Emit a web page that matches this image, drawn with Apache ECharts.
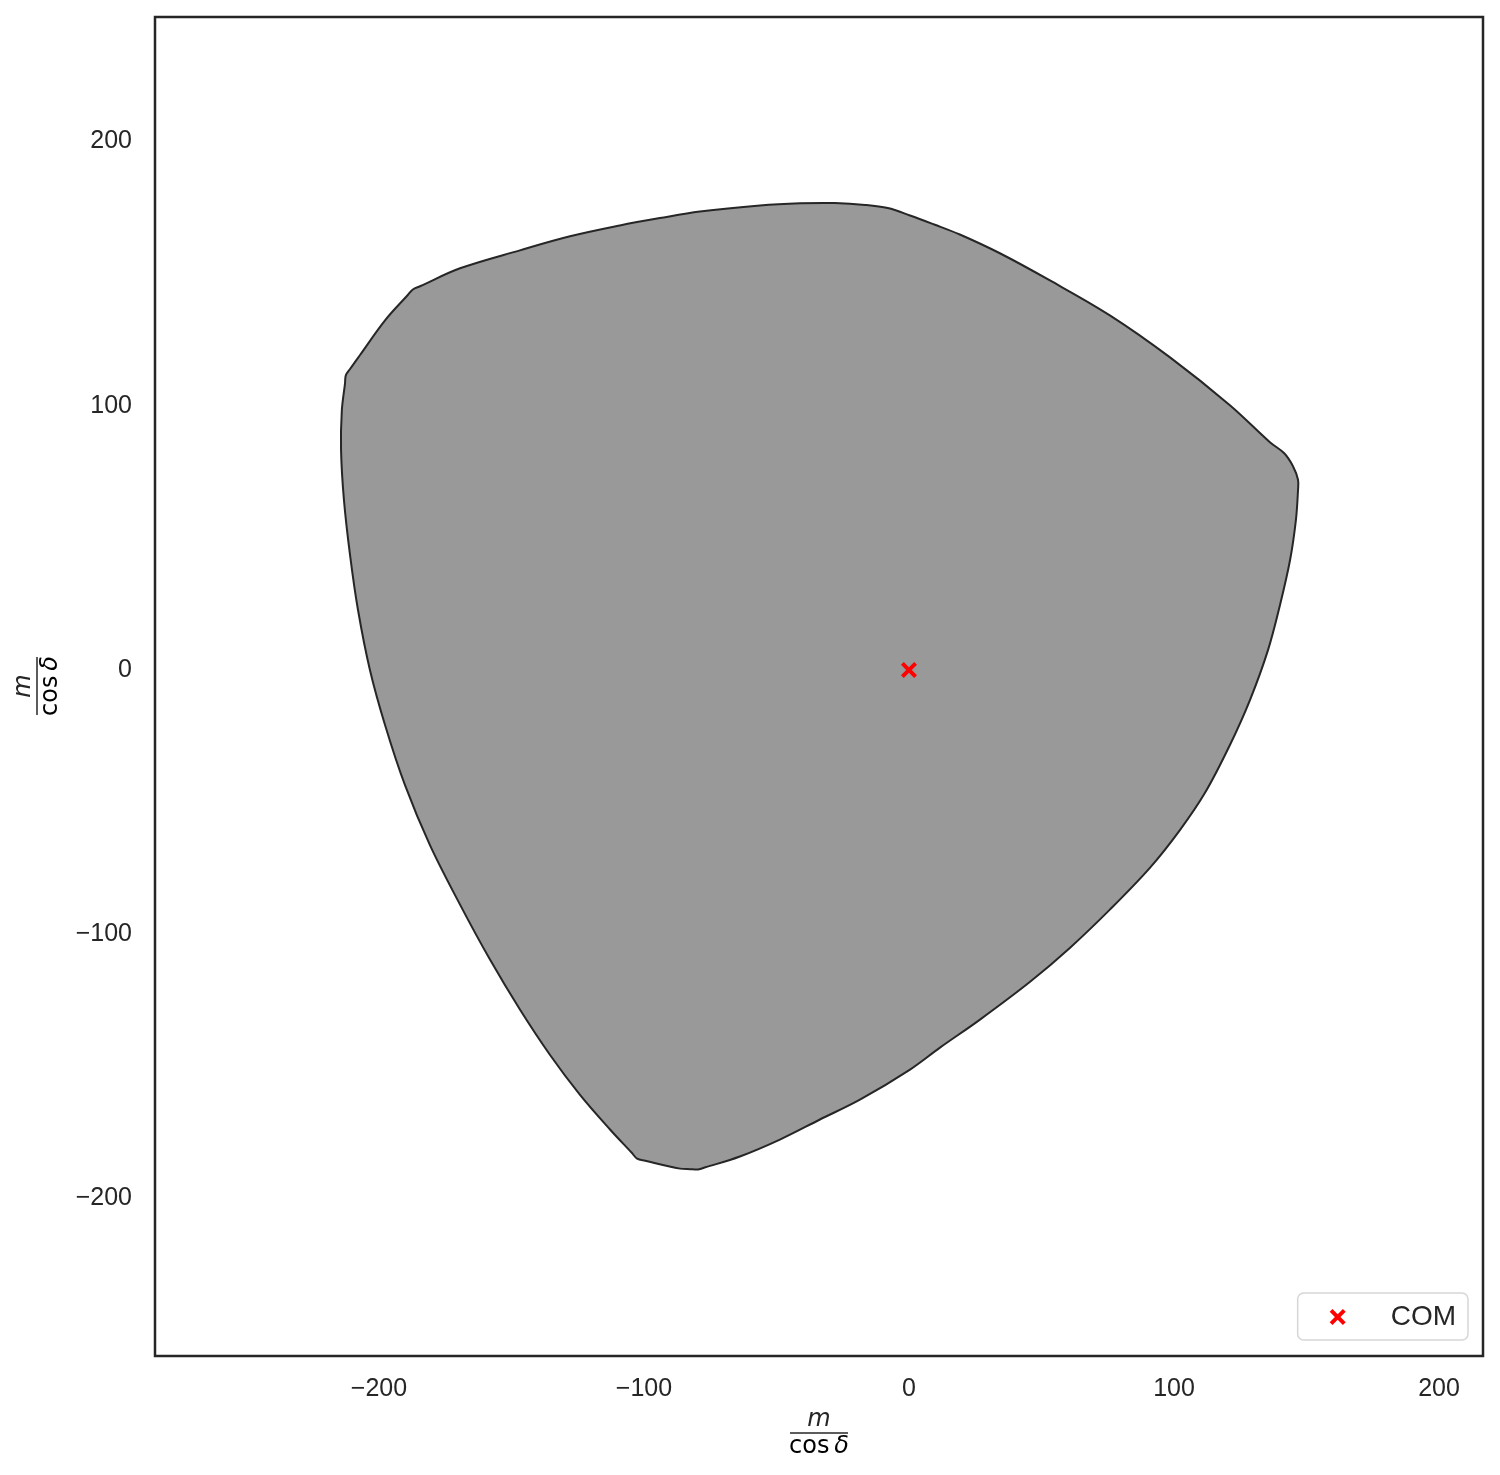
<!DOCTYPE html>
<html>
<head>
<meta charset="utf-8">
<script src="https://cdn.jsdelivr.net/npm/echarts@6/dist/echarts.min.js"></script>
<style>html,body{margin:0;padding:0;background:#fff;}#c{width:1500px;height:1475px;}</style>
</head>
<body>
<div id="c"></div>
<script>
// Region boundary (data units, m / cos δ)
const boundaryX = [-187.2,-184.5,-169.4,-146.8,-127.9,-109.1,-94.0,-78.9,-56.2,-41.0,-28.0,-16.5,-8.0,0.4,9.5,19.2,34.3,53.2,75.8,98.5,121.1,136.2,141.6,144.9,146.8,146.8,146.0,143.8,140.0,135.5,128.7,121.1,111.7,102.3,90.9,75.8,60.8,45.7,26.8,11.7,0.4,-18.5,-33.6,-48.7,-63.8,-76.8,-79.6,-82.5,-86.4,-99.5,-102.6,-104.6,-112.8,-124.2,-135.5,-146.8,-158.1,-169.4,-180.8,-190.2,-197.7,-203.4,-207.9,-210.9,-213.2,-214.3,-214.0,-212.8,-212.5,-210.9,-207.2,-197.7,-189.2];
const boundaryY = [144.0,145.2,152.0,158.8,164.1,168.2,171.0,173.5,175.8,176.6,176.7,176.0,174.8,172.0,168.6,164.8,157.7,147.4,134.2,118.3,100.2,86.2,82.0,77.1,72.0,68.1,56.7,41.6,24.6,7.6,-11.3,-28.4,-46.5,-60.5,-74.9,-90.7,-105.1,-118.0,-132.3,-142.9,-151.2,-162.6,-170.1,-177.7,-184.1,-188.2,-189.0,-188.9,-188.7,-185.7,-184.9,-182.7,-173.9,-160.7,-145.6,-128.5,-109.6,-88.8,-66.2,-43.5,-20.8,0,22.7,43.5,64.3,83.2,98.3,108.5,111.5,113.9,119.1,132.3,141.8];
// Centre of mass
const comX = [0];
const comY = [0];
const seriesName = 'COM';

const xMin = -284.5, xMax = 216.6, yMin = -259.6, yMax = 247.1;

const boundaryData = boundaryX.map((x, i) => [x, boundaryY[i]]);
const comData = comX.map((x, i) => [x, comY[i]]);

const crossPath = 'path://M0,3.5 L3.5,0 L10,6.5 L16.5,0 L20,3.5 L13.5,10 L20,16.5 L16.5,20 L10,13.5 L3.5,20 L0,16.5 L6.5,10 Z';
const fmt = v => (v < 0 ? '\u2212' + Math.abs(v) : String(v));
const tickFont = {fontFamily: 'Liberation Sans, Arial, sans-serif', fontSize: 25, color: '#262626'};

const chart = echarts.init(document.getElementById('c'), null, {renderer: 'canvas'});
chart.setOption({
  animation: false,
  backgroundColor: '#ffffff',
  grid: {left: 155, right: 17, top: 17, bottom: 119, show: true, borderColor: '#262626', borderWidth: 2.5, backgroundColor: 'transparent'},
  xAxis: {
    type: 'value', min: xMin, max: xMax, splitNumber: 5,
    axisLine: {show: false}, axisTick: {show: false}, splitLine: {show: false},
    axisLabel: Object.assign({margin: 21, showMinLabel: false, showMaxLabel: false, formatter: fmt}, tickFont)
  },
  yAxis: {
    type: 'value', min: yMin, max: yMax, splitNumber: 5,
    axisLine: {show: false}, axisTick: {show: false}, splitLine: {show: false},
    axisLabel: Object.assign({margin: 23, showMinLabel: false, showMaxLabel: false, formatter: fmt}, tickFont)
  },
  legend: {
    data: [{name: seriesName, icon: crossPath}],
    right: 32, bottom: 135,
    backgroundColor: '#ffffff', borderColor: '#d6d6d6', borderWidth: 1.5, borderRadius: 6,
    padding: [10, 12, 9, 32],
    itemWidth: 16, itemHeight: 16,
    textStyle: {fontFamily: 'Liberation Sans, Arial, sans-serif', fontSize: 28, color: '#262626', padding: [0, 0, 0, 40]}
  },
  series: [
    {
      type: 'custom', name: 'region', silent: true,
      data: boundaryData,
      encode: {x: 0, y: 1},
      renderItem: function (params, api) {
        if (params.dataIndex !== 0) return null;
        const pts = boundaryData.map(p => api.coord(p));
        return {
          type: 'polygon',
          shape: {points: pts, smooth: 0.35},
          style: {fill: '#999999', stroke: '#262626', lineWidth: 2}
        };
      },
      z: 1
    },
    {
      type: 'scatter', name: seriesName,
      data: comData,
      symbol: crossPath, symbolSize: 16,
      itemStyle: {color: '#ff0000', opacity: 1},
      z: 5
    }
  ],
  graphic: [
    {
      type: 'group', x: 819, y: 1433,
      children: [
        {type: 'text', x: 0, y: -13, style: {text: 'm', fontFamily: 'DejaVu Sans', fontStyle: 'italic', fontSize: 24, fill: '#262626', align: 'center', verticalAlign: 'middle'}},
        {type: 'line', shape: {x1: -29, y1: 0, x2: 29, y2: 0}, style: {stroke: '#262626', lineWidth: 1.5}},
        {type: 'text', x: 0, y: 14, style: {text: '{a|cos\u2009}{b|\u03b4}', align: 'center', verticalAlign: 'middle', rich: {a: {fontFamily: 'DejaVu Sans', fontSize: 24, color: '#262626'}, b: {fontFamily: 'DejaVu Sans', fontStyle: 'italic', fontSize: 24, color: '#262626'}}}}
      ]
    },
    {
      type: 'group', x: 37, y: 686, rotation: Math.PI / 2,
      children: [
        {type: 'text', x: 0, y: -13, style: {text: 'm', fontFamily: 'DejaVu Sans', fontStyle: 'italic', fontSize: 24, fill: '#262626', align: 'center', verticalAlign: 'middle'}},
        {type: 'line', shape: {x1: -29, y1: 0, x2: 29, y2: 0}, style: {stroke: '#262626', lineWidth: 1.5}},
        {type: 'text', x: 0, y: 14, style: {text: '{a|cos\u2009}{b|\u03b4}', align: 'center', verticalAlign: 'middle', rich: {a: {fontFamily: 'DejaVu Sans', fontSize: 24, color: '#262626'}, b: {fontFamily: 'DejaVu Sans', fontStyle: 'italic', fontSize: 24, color: '#262626'}}}}
      ]
    }
  ]
});
</script>
</body>
</html>
